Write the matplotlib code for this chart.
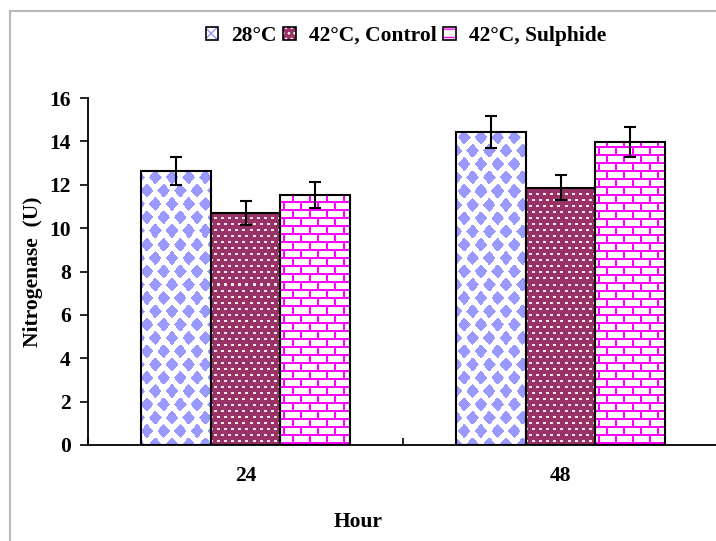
import numpy as np
import matplotlib
matplotlib.use("Agg")
import matplotlib.pyplot as plt
from matplotlib.patches import Patch
from matplotlib.lines import Line2D

# =========================================================
# DATA
# =========================================================
hours = ["24", "48"]
series_names = ["28°C", "42°C, Control", "42°C, Sulphide"]

val_28 = [12.65, 14.45]
err_28 = [0.65, 0.74]

val_control = [10.71, 11.86]
err_control = [0.56, 0.58]

val_sulphide = [11.53, 13.96]
err_sulphide = [0.58, 0.68]

y_ticks = [0, 2, 4, 6, 8, 10, 12, 14, 16]

# =========================================================
# STYLE
# =========================================================
plt.rcParams["font.family"] = ["Liberation Serif", "DejaVu Serif"]
plt.rcParams["font.weight"] = "bold"

FS = 15.5

BLUE = np.array([0x99, 0x99, 0xFF]) / 255.0
MAROON = np.array([0x99, 0x33, 0x66]) / 255.0
MAGENTA = np.array([0xFF, 0x00, 0xFF]) / 255.0
DASH = np.array([0xF4, 0xE4, 0xEC]) / 255.0

FIG_W, FIG_H, DPI = 7.16, 5.41, 100
AX_RECT = [88 / 716, 96 / 541, 630 / 716, 347 / 541]

BAR_W = 0.222
XMIN, XMAX = -0.5, 1.5
YMIN, YMAX = 0, 16


# =========================================================
# FILL TEXTURES (pixel patterns, like the Excel pattern fills)
# =========================================================
def tex_diamonds(h, w):
    yy, xx = np.mgrid[0:h, 0:w].astype(float)
    py, px = 13.3, 16.7
    r = np.round(yy / py)
    off = (r % 2) * px / 2
    dx = xx - off - px * np.round((xx - off) / px)
    dy = yy - r * py
    mask = np.abs(dx) / 6.4 + np.abs(dy) / 7.4 <= 1
    img = np.ones((h, w, 3))
    img[mask] = BLUE
    return img


def tex_dots(h, w):
    yy, xx = np.mgrid[0:h, 0:w]
    r = yy // 6
    off = (r % 2) * 3
    mask = ((yy % 6) < 2) & (((xx - off) % 7) < 3)
    img = np.ones((h, w, 3)) * MAROON
    img[mask] = DASH
    return img


def tex_bricks(h, w):
    yy, xx = np.mgrid[0:h, 0:w]
    r = yy // 8
    hline = (yy % 8) < 2
    off = (r % 2) * 8
    vline = ((xx - off) % 17) < 2
    img = np.ones((h, w, 3))
    img[hline | vline] = MAGENTA
    return img


# =========================================================
# FIGURE
# =========================================================
fig = plt.figure(figsize=(FIG_W, FIG_H), dpi=DPI)
ax = fig.add_axes(AX_RECT)

tex_h = int(round(FIG_H * DPI * AX_RECT[3]))
tex_w = int(round(FIG_W * DPI * AX_RECT[2]))

x = np.arange(len(hours))
groups = [
    (val_28, err_28, tex_diamonds(tex_h, tex_w), -BAR_W),
    (val_control, err_control, tex_dots(tex_h, tex_w), 0.0),
    (val_sulphide, err_sulphide, tex_bricks(tex_h, tex_w), BAR_W),
]

for vals, errs, tex, shift in groups:
    bars = ax.bar(x + shift, vals, width=BAR_W, fill=False,
                  edgecolor="black", linewidth=1.5, zorder=3)
    for bar in bars:
        im = ax.imshow(tex, extent=(XMIN, XMAX, YMIN, YMAX), origin="upper",
                       aspect="auto", interpolation="nearest", zorder=2)
        im.set_clip_path(bar)
    ax.errorbar(x + shift, vals, yerr=errs, fmt="none", ecolor="black",
                elinewidth=1.5, capsize=4.3, capthick=1.5, zorder=4)

ax.set_xlim(XMIN, XMAX)
ax.set_ylim(YMIN, YMAX)

ax.set_yticks(y_ticks)
ax.set_yticklabels([str(t) for t in y_ticks], fontsize=FS, fontweight="bold")
ax.tick_params(axis="y", direction="out", length=6, width=1.2, pad=6.5)

ax.set_xticks(x)
ax.set_xticklabels(hours, fontsize=FS, fontweight="bold")
ax.tick_params(axis="x", which="major", length=0, pad=15)
ax.set_xticks([-0.5, 0.5, 1.5], minor=True)
ax.tick_params(axis="x", which="minor", direction="in", length=5, width=1.2)

for s in ["top", "right"]:
    ax.spines[s].set_visible(False)
for s in ["left", "bottom"]:
    ax.spines[s].set_linewidth(1.3)

ax.set_ylabel("Nitrogenase  (U)", fontsize=FS, fontweight="bold")
ax.yaxis.set_label_coords((43 - 88) / 630, 0.5)
ax.set_xlabel("Hour", fontsize=FS, fontweight="bold")
ax.xaxis.set_label_coords((358 - 88) / 630, -(512 - 445) / 347)

# legend handles
h28 = (Patch(facecolor="white", edgecolor="#9999FF", hatch="xxx", linewidth=0),
       Patch(fill=False, edgecolor="black", linewidth=1.2))
hctl = (Patch(facecolor="#993366", edgecolor="white", hatch="...", linewidth=0),
        Patch(fill=False, edgecolor="black", linewidth=1.2))
hsul = (Patch(facecolor="white", edgecolor="#FF00FF", hatch="--", linewidth=0),
        Patch(fill=False, edgecolor="black", linewidth=1.2))

fig.legend([h28, hctl, hsul], series_names, loc="center",
           bbox_to_anchor=(406 / 716, 1 - 36 / 541), ncol=3, frameon=False,
           prop={"size": FS, "weight": "bold"}, handlelength=0.6,
           handleheight=0.6, handletextpad=0.6, columnspacing=0.3)

# grey chart-area frame (left and top edges visible)
fig.add_artist(Line2D([10 / 716, 10 / 716], [0, 1 - 10.5 / 541],
                      color="#b8b8b8", linewidth=1.5, transform=fig.transFigure))
fig.add_artist(Line2D([10 / 716, 1], [1 - 10.5 / 541, 1 - 10.5 / 541],
                      color="#b8b8b8", linewidth=1.5, transform=fig.transFigure))

fig.savefig("out.png", dpi=DPI)
